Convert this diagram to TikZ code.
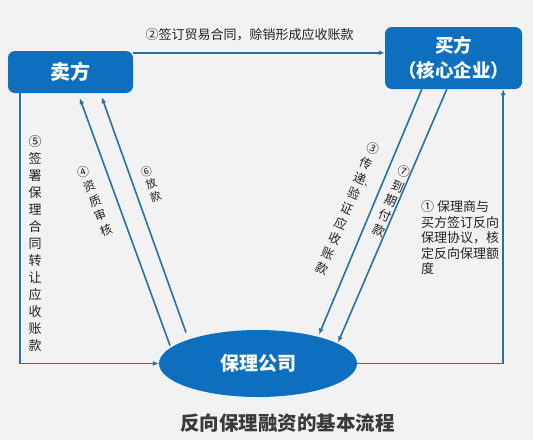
\documentclass[tikz,border=0pt]{standalone}
\usepackage{fontspec}
\setmainfont{Noto Sans CJK SC}
\usetikzlibrary{arrows.meta,shapes.geometric}
\definecolor{bgc}{HTML}{F2F2F3}
\definecolor{boxblue}{RGB}{14,111,190}
\definecolor{linec}{RGB}{42,112,160}
\definecolor{txt}{HTML}{222222}
\definecolor{titlec}{HTML}{3A3A3A}
\tikzset{
  bluebox/.style={draw=none,fill=boxblue,rounded corners=7pt,text=white,font=\bfseries\fontsize{20}{25}\selectfont,align=center,inner sep=0pt},
  conn/.style={draw=linec,line width=1.6pt,-{Latex[length=6pt,width=5pt]}},
  lbl/.style={text=txt,inner sep=0pt,align=center},
  vcol/.style 2 args={lbl,font=\fontsize{#1}{#2}\selectfont},
}
\begin{document}
\begin{tikzpicture}[x=1pt,y=-1pt]
\fill[bgc] (0,0) rectangle (533,440);
\useasboundingbox (0,0) rectangle (533,440);

\node[bluebox,minimum width=125pt,minimum height=42pt] (seller) at (70.5,72) {卖方};
\node[bluebox,minimum width=137pt,minimum height=62pt,font=\bfseries\fontsize{18.5}{25}\selectfont] (buyer) at (453.5,58) {买方\\（核心企业）};
\node[ellipse,fill=boxblue,text=white,minimum width=198pt,minimum height=67pt,inner sep=0pt,font=\bfseries\fontsize{19}{22}\selectfont] (factor) at (258,363.5) {保理公司};

% connectors
\draw[conn] (seller.17.7) -- (buyer.west |- seller.17.7);
\draw[conn] ([xshift=12pt]seller.south west) |- (factor.west);
\draw[conn] (factor.east) -| ([xshift=-19pt]buyer.south east);
\draw[conn] ([shift={(-88,-18)}]factor.center) -- ([shift={(72,5)}]seller.south west);
\draw[conn] ([shift={(-72,-31)}]factor.center) -- ([shift={(94,4)}]seller.south west);
\draw[conn] ([shift={(37,0)}]buyer.south west) -- ([shift={(61,-29)}]factor.center);
\draw[conn] ([shift={(62,0)}]buyer.south west) -- ([shift={(80,-21)}]factor.center);

% labels
\node[lbl,font=\fontsize{13}{15}\selectfont] (l2) at (249.5,35) {②签订贸易合同，赊销形成应收账款};
\node[vcol={13}{17}] (l5) at (35,244) {⑤\\签\\署\\保\\理\\合\\同\\转\\让\\应\\收\\账\\款};
\node[vcol={12}{15.5},rotate=21] (l4) at (95,201) {④\\资\\质\\审\\核};
\node[vcol={11}{13.5},rotate=20] (l6) at (151,184) {⑥\\放\\款};
\node[vcol={12.5}{16.3},rotate=-23] (l3) at (347.5,209) {③\\传\\递\rlap{\fontsize{9}{9}\selectfont 、}\\验\\证\\应\\收\\账\\款};
\node[vcol={12.5}{16},rotate=-23] (l7) at (391.5,201) {⑦\\到\\期\\付\\款};
\node[lbl,align=left,anchor=north west,font=\fontsize{13}{15.5}\selectfont] (l1) at (421,200.5) {① 保理商与\\买方签订反向\\保理协议，核\\定反向保理额\\度};

\node[text=titlec,inner sep=0pt,font=\bfseries\fontsize{19.5}{22}\selectfont] (title) at (287.5,423) {反向保理融资的基本流程};
\end{tikzpicture}
\end{document}
